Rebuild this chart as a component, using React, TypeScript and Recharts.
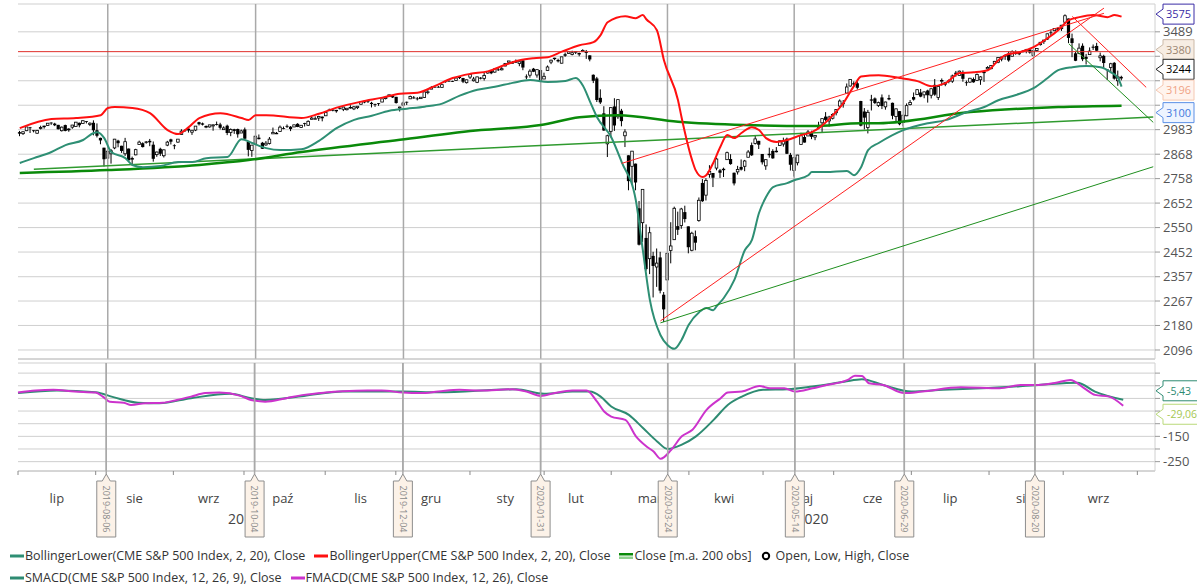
import React from 'react';
import { ComposedChart, Bar, Line, XAxis, YAxis, CartesianGrid, ReferenceLine } from 'recharts';

type OHLC = [number, number, number, number];

// Daily candles [open, high, low, close], one per trading day (index = trading-day slot)
const jul19: OHLC[] = [
  [2971, 2977, 2952, 2964], [2964, 2974, 2958, 2973], [2978, 2995, 2976, 2996], [2994, 2996, 2967, 2990],
  [2980, 2981, 2970, 2976], [2966, 2982, 2963, 2979], [2989, 3002, 2984, 2993], [2999, 3002, 2988, 3000],
  [3003, 3014, 3001, 3014], [3017, 3018, 3006, 3014], [3012, 3016, 3000, 3004], [3006, 3006, 2984, 2985],
  [2978, 2998, 2974, 2995], [3005, 3007, 2975, 2977], [2982, 2990, 2973, 2986], [2995, 3006, 2987, 3005],
  [2998, 3020, 2996, 3019], [3016, 3017, 2994, 3004], [3013, 3028, 3012, 3026], [3024, 3024, 3013, 3021],
  [3008, 3018, 3000, 3014], [3016, 3028, 2956, 2980],
];
const aug19: OHLC[] = [
  [2980, 3013, 2946, 2954], [2944, 2945, 2914, 2932], [2898, 2898, 2812, 2845], [2850, 2892, 2795, 2882],
  [2870, 2892, 2825, 2884], [2897, 2939, 2891, 2938], [2931, 2935, 2900, 2919], [2907, 2907, 2874, 2883],
  [2870, 2944, 2860, 2926], [2894, 2894, 2839, 2840], [2845, 2857, 2817, 2848], [2865, 2893, 2863, 2889],
  [2913, 2931, 2913, 2924], [2919, 2923, 2899, 2901], [2922, 2929, 2917, 2925], [2930, 2939, 2905, 2923],
  [2912, 2927, 2834, 2847], [2866, 2880, 2856, 2878], [2893, 2898, 2860, 2870], [2861, 2890, 2853, 2888],
  [2910, 2930, 2905, 2924], [2937, 2940, 2913, 2926],
];
const sep19: OHLC[] = [
  [2909, 2914, 2891, 2906], [2924, 2938, 2921, 2938], [2960, 2985, 2960, 2976], [2980, 2985, 2972, 2979],
  [2988, 2989, 2969, 2979], [2971, 2980, 2958, 2980], [2981, 3000, 2976, 3000], [3019, 3021, 3003, 3009],
  [3013, 3017, 3003, 3007], [2996, 3003, 2990, 2998], [2996, 3006, 2993, 3006], [3001, 3008, 2978, 3006],
  [3010, 3022, 3003, 3006], [3008, 3016, 2984, 2992], [2983, 2999, 2982, 2991], [3002, 3007, 2957, 2967],
  [2969, 2989, 2952, 2984], [2985, 2987, 2963, 2977], [2986, 2988, 2945, 2961], [2967, 2983, 2967, 2977],
];
const oct19: OHLC[] = [
  [2984, 2993, 2938, 2940], [2925, 2925, 2858, 2888], [2885, 2911, 2856, 2910], [2918, 2953, 2918, 2952],
  [2945, 2960, 2937, 2938], [2921, 2925, 2892, 2893], [2911, 2929, 2907, 2919], [2918, 2948, 2913, 2938],
  [2963, 2993, 2963, 2970], [2966, 2972, 2962, 2966], [2974, 3003, 2974, 2995], [2990, 2998, 2985, 2989],
  [3001, 3008, 2991, 2997], [2997, 3000, 2976, 2986], [2996, 3007, 2995, 3006], [3011, 3014, 2995, 2996],
  [2994, 3005, 2991, 3004], [3014, 3016, 2998, 3010], [3004, 3028, 3001, 3023], [3033, 3044, 3032, 3039],
  [3036, 3047, 3034, 3036], [3039, 3050, 3025, 3047], [3046, 3046, 3023, 3038],
];
const nov19: OHLC[] = [
  [3050, 3066, 3050, 3067], [3078, 3085, 3074, 3078], [3080, 3083, 3072, 3075], [3075, 3079, 3065, 3077],
  [3087, 3098, 3081, 3085], [3082, 3094, 3073, 3093], [3080, 3088, 3076, 3087], [3089, 3102, 3085, 3091],
  [3084, 3098, 3078, 3094], [3090, 3098, 3083, 3097], [3107, 3120, 3104, 3120], [3118, 3124, 3112, 3122],
  [3128, 3128, 3113, 3120], [3114, 3119, 3091, 3108], [3108, 3110, 3094, 3104], [3112, 3113, 3099, 3110],
  [3118, 3133, 3117, 3134], [3135, 3142, 3131, 3141], [3145, 3155, 3143, 3154], [3148, 3151, 3138, 3141],
];
const dec19: OHLC[] = [
  [3144, 3144, 3110, 3113], [3088, 3095, 3071, 3093], [3103, 3120, 3100, 3113], [3119, 3120, 3103, 3117],
  [3134, 3150, 3134, 3146], [3141, 3148, 3135, 3136], [3136, 3143, 3126, 3133], [3135, 3143, 3133, 3142],
  [3141, 3176, 3139, 3169], [3167, 3182, 3157, 3169], [3183, 3198, 3183, 3192], [3195, 3198, 3191, 3192],
  [3195, 3199, 3191, 3191], [3192, 3206, 3192, 3206], [3223, 3226, 3216, 3221], [3226, 3227, 3222, 3224],
  [3225, 3226, 3220, 3223], [3227, 3240, 3227, 3240], [3247, 3248, 3235, 3240], [3240, 3241, 3214, 3221],
  [3216, 3232, 3212, 3231],
];
const jan20: OHLC[] = [
  [3245, 3258, 3235, 3258], [3226, 3246, 3222, 3235], [3218, 3247, 3214, 3246], [3242, 3245, 3233, 3237],
  [3238, 3268, 3227, 3253], [3266, 3275, 3263, 3275], [3281, 3283, 3260, 3265], [3271, 3288, 3268, 3288],
  [3285, 3294, 3277, 3283], [3283, 3298, 3280, 3289], [3303, 3317, 3302, 3317], [3323, 3330, 3320, 3330],
  [3321, 3329, 3316, 3321], [3330, 3338, 3320, 3321], [3316, 3326, 3302, 3326], [3333, 3334, 3281, 3295],
  [3248, 3259, 3234, 3244], [3255, 3286, 3242, 3276], [3289, 3293, 3271, 3273], [3256, 3285, 3242, 3284],
  [3282, 3282, 3214, 3226],
];
const feb20: OHLC[] = [
  [3235, 3268, 3235, 3249], [3280, 3306, 3280, 3298], [3324, 3337, 3313, 3334], [3344, 3347, 3334, 3345],
  [3335, 3342, 3322, 3328], [3318, 3352, 3317, 3352], [3366, 3375, 3352, 3358], [3370, 3381, 3369, 3379],
  [3365, 3385, 3360, 3374], [3378, 3381, 3367, 3380], [3369, 3375, 3355, 3370], [3380, 3393, 3378, 3386],
  [3380, 3389, 3341, 3373], [3360, 3360, 3328, 3338], [3257, 3259, 3214, 3226], [3238, 3246, 3118, 3128],
  [3139, 3182, 3108, 3116], [3062, 3097, 2977, 2979], [2916, 2959, 2855, 2954],
];
const mar20: OHLC[] = [
  [2975, 3091, 2946, 3090], [3096, 3137, 2977, 3003], [3045, 3130, 3035, 3130], [3075, 3084, 2999, 3024],
  [2954, 2985, 2901, 2972], [2863, 2863, 2707, 2747], [2813, 2883, 2734, 2882], [2825, 2825, 2707, 2741],
  [2630, 2661, 2478, 2481], [2570, 2711, 2492, 2711], [2508, 2563, 2380, 2386], [2426, 2553, 2367, 2529],
  [2437, 2453, 2280, 2398], [2394, 2466, 2319, 2409], [2431, 2453, 2295, 2305], [2290, 2300, 2192, 2237],
  [2345, 2449, 2345, 2447], [2458, 2572, 2408, 2476], [2501, 2637, 2500, 2630], [2556, 2616, 2520, 2541],
  [2558, 2632, 2545, 2627], [2614, 2641, 2571, 2585],
];
const apr20: OHLC[] = [
  [2555, 2555, 2447, 2471], [2459, 2533, 2455, 2527], [2515, 2538, 2459, 2489], [2579, 2676, 2574, 2664],
  [2739, 2756, 2657, 2660], [2686, 2760, 2663, 2750], [2777, 2818, 2762, 2790], [2783, 2783, 2721, 2762],
  [2805, 2852, 2795, 2846], [2795, 2801, 2761, 2784], [2799, 2807, 2765, 2800], [2843, 2880, 2842, 2875],
  [2846, 2868, 2820, 2823], [2784, 2785, 2728, 2737], [2788, 2815, 2776, 2799], [2810, 2844, 2794, 2798],
  [2813, 2842, 2791, 2837], [2854, 2887, 2854, 2878], [2910, 2922, 2860, 2863], [2918, 2954, 2913, 2939],
  [2930, 2930, 2892, 2912],
];
const may20: OHLC[] = [
  [2869, 2869, 2821, 2831], [2815, 2844, 2797, 2843], [2868, 2898, 2852, 2868], [2883, 2891, 2847, 2849],
  [2879, 2901, 2876, 2882], [2908, 2932, 2906, 2930], [2915, 2945, 2903, 2930], [2940, 2945, 2869, 2870],
  [2865, 2874, 2794, 2820], [2794, 2852, 2767, 2852], [2829, 2865, 2817, 2864], [2913, 2968, 2913, 2954],
  [2948, 2964, 2922, 2922], [2953, 2981, 2953, 2972], [2970, 2978, 2938, 2949], [2948, 2956, 2933, 2955],
  [3005, 3021, 2988, 2992], [3016, 3037, 2969, 3036], [3046, 3068, 3023, 3030], [3025, 3050, 2998, 3044],
];
const jun20: OHLC[] = [
  [3038, 3062, 3032, 3056], [3065, 3081, 3052, 3081], [3098, 3131, 3090, 3123], [3112, 3128, 3090, 3112],
  [3163, 3212, 3163, 3194], [3199, 3233, 3196, 3232], [3213, 3223, 3194, 3207], [3213, 3223, 3181, 3190],
  [3123, 3124, 2999, 3002], [3071, 3088, 2984, 3041], [2993, 3079, 2965, 3067], [3131, 3154, 3076, 3125],
  [3136, 3141, 3108, 3113], [3101, 3120, 3093, 3115], [3141, 3156, 3083, 3098], [3094, 3120, 3080, 3118],
  [3138, 3154, 3127, 3131], [3114, 3115, 3033, 3050], [3046, 3086, 3024, 3084], [3073, 3073, 3004, 3009],
  [3018, 3053, 2999, 3053], [3050, 3111, 3048, 3100],
];
const jul20: OHLC[] = [
  [3105, 3128, 3101, 3116], [3143, 3166, 3125, 3130], [3155, 3183, 3155, 3180], [3166, 3184, 3142, 3145],
  [3154, 3171, 3137, 3169], [3176, 3180, 3115, 3152], [3152, 3186, 3136, 3185], [3205, 3235, 3149, 3155],
  [3141, 3200, 3128, 3197], [3225, 3238, 3201, 3227], [3208, 3220, 3198, 3216], [3224, 3233, 3213, 3225],
  [3224, 3258, 3215, 3251], [3268, 3277, 3247, 3258], [3254, 3279, 3253, 3276], [3272, 3280, 3221, 3236],
  [3218, 3227, 3200, 3216], [3219, 3241, 3215, 3239], [3235, 3243, 3216, 3218], [3227, 3264, 3227, 3258],
  [3231, 3250, 3205, 3246], [3270, 3272, 3220, 3271],
];
const aug20: OHLC[] = [
  [3288, 3302, 3284, 3295], [3289, 3306, 3286, 3306], [3317, 3330, 3318, 3328], [3323, 3351, 3318, 3349],
  [3340, 3352, 3328, 3351], [3356, 3364, 3336, 3360], [3370, 3381, 3326, 3333], [3355, 3387, 3355, 3380],
  [3372, 3387, 3363, 3373], [3368, 3378, 3361, 3373], [3380, 3387, 3379, 3382], [3387, 3395, 3371, 3390],
  [3392, 3399, 3369, 3375], [3360, 3390, 3354, 3385], [3386, 3399, 3380, 3397], [3418, 3432, 3413, 3431],
  [3435, 3444, 3422, 3443], [3449, 3479, 3444, 3478], [3486, 3501, 3468, 3484], [3495, 3510, 3493, 3508],
  [3509, 3514, 3494, 3500],
];
const sep20: OHLC[] = [
  [3507, 3528, 3494, 3526], [3543, 3588, 3535, 3580], [3564, 3564, 3427, 3455], [3453, 3479, 3350, 3427],
  [3371, 3379, 3329, 3331], [3370, 3425, 3366, 3399], [3412, 3425, 3329, 3339], [3352, 3368, 3311, 3341],
  [3364, 3403, 3364, 3383], [3407, 3419, 3389, 3401], [3411, 3428, 3384, 3385], [3347, 3375, 3328, 3357],
  [3357, 3363, 3293, 3319], [3285, 3285, 3230, 3281], [3295, 3320, 3271, 3315], [3320, 3324, 3232, 3237],
  [3226, 3279, 3200, 3246], [3240, 3252, 3228, 3244],
];
const candleOHLC: OHLC[] = [
  ...jul19, ...aug19, ...sep19, ...oct19, ...nov19, ...dec19, ...jan20, ...feb20,
  ...mar20, ...apr20, ...may20, ...jun20, ...jul20, ...aug20, ...sep20,
];

// Indicator lines: [trading-day slot, value]
const bollUpper: [number, number][] = [
  [0, 2990], [9, 3034], [16, 3039], [23, 3053], [25, 3088], [27, 3093], [32, 3088], [37, 3063], [42, 2981],
  [45, 2962], [48, 2995], [51, 3039], [57, 3063], [63, 3039], [65, 3029], [67, 3053], [70, 3053], [80, 3039],
  [85, 3060], [90, 3090], [97, 3120], [103, 3140], [108, 3160], [113, 3165], [118, 3200], [123, 3240],
  [128, 3262], [133, 3275], [138, 3310], [142, 3334], [146, 3345], [150, 3350], [154, 3380], [159, 3415],
  [163, 3432], [165, 3471], [167, 3543], [172, 3577], [175, 3566], [177, 3584], [178, 3560], [181, 3498],
  [183, 3334], [187, 3127], [188, 3043], [191, 2841], [192, 2796], [194, 2765], [195, 2773], [197, 2828],
  [199, 2901], [201, 2957], [203, 2943], [205, 2967], [208, 2995], [210, 2981], [212, 2943], [215, 2925],
  [218, 2934], [222, 2957], [225, 2971], [227, 2990], [231, 3053], [234, 3113], [237, 3200], [239, 3248],
  [244, 3255], [250, 3240], [255, 3224], [259, 3198], [263, 3214], [267, 3266], [271, 3270], [275, 3281],
  [278, 3334], [280, 3361], [284, 3377], [288, 3405], [292, 3454], [295, 3498], [298, 3555], [301, 3572],
  [305, 3584], [309, 3572], [311, 3584], [313, 3575],
];
const bollLower: [number, number][] = [
  [0, 2828], [4, 2850], [9, 2878], [13, 2910], [18, 2934], [21, 2967], [22, 2971], [24, 2943], [26, 2878],
  [30, 2850], [32, 2819], [35, 2809], [40, 2814], [45, 2832], [49, 2832], [53, 2850], [59, 2855], [63, 2938],
  [66, 2920], [70, 2896], [74, 2887], [80, 2891], [85, 2930], [90, 2990], [95, 3030], [100, 3050], [105, 3075],
  [110, 3085], [115, 3095], [120, 3110], [125, 3150], [130, 3180], [135, 3195], [140, 3215], [145, 3230],
  [150, 3220], [155, 3225], [158, 3240], [160, 3200], [162, 3120], [164, 3043], [168, 2948], [171, 2832],
  [175, 2665], [177, 2460], [179, 2271], [182, 2147], [184, 2113], [186, 2100], [188, 2130], [190, 2182],
  [193, 2227], [195, 2242], [197, 2234], [198, 2249], [200, 2278], [203, 2345], [206, 2460], [208, 2500],
  [210, 2610], [212, 2678], [214, 2721], [218, 2738], [220, 2751], [224, 2773], [225, 2787], [229, 2787],
  [235, 2792], [237, 2773], [239, 2809], [241, 2887], [244, 2920], [251, 2981], [258, 3014], [263, 3029],
  [269, 3068], [274, 3093], [278, 3127], [283, 3153], [288, 3188], [292, 3240], [295, 3281], [299, 3297],
  [303, 3303], [307, 3297], [310, 3270], [312, 3240], [313, 3196],
];
const movingAvg200: [number, number][] = [
  [0, 2783], [25, 2796], [51, 2819], [65, 2841], [80, 2878], [108, 2935], [131, 2981], [148, 3005],
  [159, 3043], [170, 3053], [187, 3021], [206, 3005], [225, 3000], [239, 3014], [244, 3014], [270, 3068],
  [295, 3093], [313, 3100],
];
const fmacd: [number, number][] = [
  [0, 23], [5, 31], [10, 34], [16, 27], [22, 23], [24, 7], [26, -13], [30, -17], [32, -26], [36, -19],
  [41, -17], [45, -6], [49, 7], [53, 21], [57, 23], [63, 10], [66, -6], [70, -13], [76, 1], [81, 14],
  [87, 23], [92, 28], [99, 31], [103, 31], [109, 23], [114, 21], [119, 27], [125, 34], [131, 31], [140, 36],
  [144, 27], [148, 10], [152, 21], [157, 31], [161, 31], [164, -13], [166, -52], [168, -72], [172, -85],
  [175, -150], [178, -190], [180, -210], [182, -239], [185, -203], [188, -150], [191, -124], [195, -45],
  [199, 1], [201, 23], [205, 27], [210, 49], [213, 40], [217, 40], [220, 27], [225, 40], [229, 53],
  [235, 73], [237, 90], [239, 89], [241, 60], [245, 53], [251, 21], [256, 27], [267, 44], [278, 40],
  [284, 53], [289, 53], [294, 62], [298, 73], [302, 40], [305, 14], [309, 7], [313, -29.06],
];
const smacd: [number, number][] = [
  [0, 21], [11, 31], [22, 24], [27, 5], [34, -17], [40, -19], [49, 1], [60, 18], [66, 1], [70, -6],
  [81, 10], [92, 27], [109, 27], [119, 24], [141, 36], [149, 18], [157, 27], [162, 27], [165, 7],
  [168, -32], [173, -65], [177, -117], [181, -170], [184, -200], [188, -183], [192, -150], [197, -85],
  [201, -26], [205, 7], [211, 34], [218, 36], [225, 47], [234, 66], [239, 76], [245, 53], [253, 27],
  [262, 34], [273, 40], [289, 53], [300, 62], [305, 27], [313, -5.43],
];

// Hand-drawn trend lines: [slot, value] end points
const redTrendA: [number, number][] = [[171, 2826], [308, 3594]];
const redTrendB: [number, number][] = [[182, 2196], [308, 3624]];
const redTrendC: [number, number][] = [[299, 3576], [320, 3192]];
const greenTrendD: [number, number][] = [[298, 3423], [322, 3018]];
const greenTrendE: [number, number][] = [[182, 2189], [322, 2811]];
const greenTrendF: [number, number][] = [[4, 2800], [322, 3044]];
const resistanceLevel = 3380;

// Axes
const SLOT_COUNT = 323;
const priceTicks = [2096, 2180, 2267, 2357, 2452, 2550, 2652, 2758, 2868, 2983, 3102, 3226, 3355, 3489];
const hiddenPriceTicks = [3102, 3226, 3355];
const macdTicks = [100, 50, 0, -50, -100, -150, -200, -250];
const shownMacdTicks = [-150, -250];
const monthStarts = [0, 22, 44, 64, 87, 107, 128, 149, 168, 190, 211, 231, 253, 275, 296, 317];
const monthMids = [11, 33, 54, 75, 97, 117, 138, 158, 179, 200, 222, 242, 264, 285, 306];
const monthNames = ['lip', 'sie', 'wrz', 'paź', 'lis', 'gru', 'sty', 'lut', 'mar', 'kwi', 'maj', 'cze', 'lip', 'sie', 'wrz'];
const yearMids = [64, 225];
const yearNames = ['2019', '2020'];
const markerSlots = [25, 67, 109, 148, 184, 220, 251, 288];
const markerDates = ['2019-08-06', '2019-10-04', '2019-12-04', '2020-01-31', '2020-03-24', '2020-05-14', '2020-06-29', '2020-08-20'];

// Last-value tags
const priceTagValues = [3575, 3380, 3244, 3196, 3100];
const macdTagValues = [-5.43, -29.06];

// Styles (not data)
const FONT = "'Open Sans', 'Noto Sans', sans-serif";
const priceTagStyles = [
  { shift: -2.5, stroke: '#3a2ca6', fill: '#ffffff', color: '#3a2ca6' },
  { shift: -2, stroke: '#cbb9a7', fill: '#f7ede3', color: '#9c8672' },
  { shift: -8, stroke: '#222222', fill: '#ffffff', color: '#000000' },
  { shift: 3.5, stroke: '#f5c8b2', fill: '#fff4ee', color: '#f0a385' },
  { shift: 7, stroke: '#5a8fe6', fill: '#eef4ff', color: '#3f78dc' },
];
const macdTagStyles = [
  { shift: -9, stroke: '#2e8b72', fill: '#ffffff', color: '#2e8b72' },
  { shift: 8.5, stroke: '#b9d97a', fill: '#ffffff', color: '#a5c752' },
];
const C_LOWER = '#2e8f74';
const C_UPPER = '#ff1010';
const C_MA = '#0a8a0a';
const C_SMACD = '#2e8b72';
const C_FMACD = '#cc33cc';
const LOWER_MARGIN = { top: 4, right: 0, bottom: 28, left: 18 };

const rows: any[] = Array.from({ length: SLOT_COUNT }, (_, i) => ({ i }));
candleOHLC.forEach(([o, h, l, c], i) => {
  Object.assign(rows[i], { o, h, l, c, range: [l, h] });
});
const put = (key: string, pts: [number, number][]) => pts.forEach(([i, v]) => { rows[i][key] = v; });
put('bu', bollUpper);
put('bl', bollLower);
put('ma', movingAvg200);
put('fm', fmacd);
put('sm', smacd);
put('tA', redTrendA);
put('tB', redTrendB);
put('tC', redTrendC);
put('tD', greenTrendD);
put('tE', greenTrendE);
put('tF', greenTrendF);

const Candle = (props: any) => {
  const { x, y, width, height, payload } = props;
  if (!payload || payload.h == null || !isFinite(y) || !isFinite(height)) return null;
  const { o, h, l, c } = payload;
  const span = Math.log(h) - Math.log(l);
  const yOf = (v: number) => (span > 0 ? y + ((Math.log(h) - Math.log(v)) / span) * height : y);
  const cx = x + width / 2;
  const top = yOf(Math.max(o, c));
  const bot = yOf(Math.min(o, c));
  const up = c >= o;
  return (
    <g>
      <line x1={cx} x2={cx} y1={y} y2={y + height} stroke="#000" strokeWidth={1} />
      {up ? (
        <rect x={cx - 1.3} y={top} width={2.6} height={Math.max(bot - top, 0.6)} fill="#fff" stroke="#000" strokeWidth={0.8} />
      ) : (
        <rect x={cx - 1.6} y={top} width={3.2} height={Math.max(bot - top, 0.8)} fill="#000" />
      )}
    </g>
  );
};

const ValueTag = (props: any) => {
  const { viewBox, text, st, boxW, alignLeft } = props;
  if (!viewBox) return null;
  const tipX = viewBox.x + viewBox.width + 1;
  const cy = viewBox.y + st.shift;
  const bx = tipX + 7;
  const d = `M${tipX},${cy} L${bx},${cy - 5} L${bx},${cy - 10} L${bx + boxW},${cy - 10} L${bx + boxW},${cy + 10} L${bx},${cy + 10} L${bx},${cy + 5} Z`;
  return (
    <g>
      <path d={d} fill={st.fill} stroke={st.stroke} strokeWidth={1} />
      <text
        x={alignLeft ? bx + 4 : bx + boxW / 2}
        y={cy}
        dy="0.36em"
        textAnchor={alignLeft ? 'start' : 'middle'}
        fontSize={alignLeft ? 10.5 : 11}
        fill={st.color}
        fontFamily={FONT}
      >
        {text}
      </text>
    </g>
  );
};

const DateTag = (props: any) => {
  const { viewBox, text } = props;
  if (!viewBox) return null;
  const cx = viewBox.x;
  const base = viewBox.y + viewBox.height;
  const peak = base + 3;
  const top = base + 10;
  const bottom = base + 66;
  const hw = 9.5;
  const d = `M${cx - hw},${top} L${cx - 4},${top} L${cx},${peak} L${cx + 4},${top} L${cx + hw},${top} L${cx + hw},${bottom} L${cx - hw},${bottom} Z`;
  return (
    <g>
      <line x1={cx} x2={cx} y1={base} y2={peak} stroke="#a9a9a9" strokeWidth={1.5} />
      <path d={d} fill="#fcf2e8" stroke="#8e8e8e" strokeWidth={1} />
      <text
        transform={`translate(${cx},${(top + bottom) / 2}) rotate(90)`}
        textAnchor="middle"
        dy="0.35em"
        fontSize={9}
        fill="#8a8a8a"
        fontFamily={FONT}
      >
        {text}
      </text>
    </g>
  );
};

const fmtComma = (v: number) => v.toFixed(2).replace('.', ',');

const legendRow1 = [
  { label: 'BollingerLower(CME S&P 500 Index, 2, 20), Close', color: C_LOWER, kind: 'line' },
  { label: 'BollingerUpper(CME S&P 500 Index, 2, 20), Close', color: C_UPPER, kind: 'line' },
  { label: 'Close [m.a. 200 obs]', color: C_MA, kind: 'double' },
  { label: 'Open, Low, High, Close', color: '#000', kind: 'candle' },
];
const legendRow2 = [
  { label: 'SMACD(CME S&P 500 Index, 12, 26, 9), Close', color: C_SMACD, kind: 'line' },
  { label: 'FMACD(CME S&P 500 Index, 12, 26), Close', color: C_FMACD, kind: 'line' },
];

const LegendIcon = ({ kind, color }: any) => {
  if (kind === 'double') {
    return (
      <svg width={14} height={10} style={{ marginRight: 1 }}>
        <rect x={0} y={2} width={14} height={2.5} fill={color} />
        <rect x={0} y={5.5} width={14} height={2.5} fill="#8fd08f" />
      </svg>
    );
  }
  if (kind === 'candle') {
    return (
      <svg width={12} height={10} style={{ marginRight: 3 }}>
        <circle cx={5} cy={5} r={3.2} fill="#fff" stroke="#000" strokeWidth={2} />
      </svg>
    );
  }
  return (
    <svg width={14} height={10} style={{ marginRight: 1 }}>
      <rect x={0} y={3.5} width={14} height={3} fill={color} />
    </svg>
  );
};

const LegendRow = ({ items, top }: any) => (
  <div style={{ position: 'absolute', left: 10, top, display: 'flex', alignItems: 'center', whiteSpace: 'nowrap', fontSize: 12.5, color: '#333', fontFamily: FONT }}>
    {items.map((it: any) => (
      <div key={it.label} style={{ display: 'flex', alignItems: 'center', marginRight: 9 }}>
        <LegendIcon kind={it.kind} color={it.color} />
        <span>{it.label}</span>
      </div>
    ))}
  </div>
);

// The three stacked bottom axes (month ticks, month names, years); shared by the MACD panel and its tag overlay
const renderBottomAxes = (visible: boolean) => [
  <XAxis
    key="ax0"
    dataKey="i"
    type="category"
    ticks={monthStarts}
    interval={0}
    height={6}
    tickSize={4}
    tickMargin={0}
    axisLine={visible ? { stroke: '#c4c4c4' } : false}
    tickLine={visible ? { stroke: '#8a8a8a' } : false}
    tickFormatter={() => ''}
  />,
  <XAxis
    key="axm"
    xAxisId="m"
    dataKey="i"
    type="category"
    ticks={monthMids}
    interval={0}
    height={20}
    tickSize={0}
    tickMargin={17}
    axisLine={false}
    tickLine={false}
    tick={{ fill: '#444', fontSize: 13, fontFamily: FONT }}
    tickFormatter={(v: number) => (visible ? monthNames[monthMids.indexOf(v)] ?? '' : '')}
  />,
  <XAxis
    key="axy"
    xAxisId="y"
    dataKey="i"
    type="category"
    ticks={yearMids}
    interval={0}
    height={20}
    tickSize={0}
    tickMargin={17}
    axisLine={false}
    tickLine={false}
    tick={{ fill: '#444', fontSize: 14, fontFamily: FONT }}
    tickFormatter={(v: number) => (visible ? yearNames[yearMids.indexOf(v)] ?? '' : '')}
  />,
];

export default function App() {
  return (
    <div style={{ position: 'absolute', left: 0, top: 0, width: 1197, height: 588, background: '#fff', overflow: 'hidden', fontFamily: FONT }}>
      <div style={{ position: 'absolute', left: 0, top: 0 }}>
        <ComposedChart width={1197} height={361} data={rows} margin={{ top: 4, right: 0, bottom: 1, left: 18 }} barCategoryGap={0}>
          <CartesianGrid horizontal vertical={false} stroke="#cfcfcf" strokeWidth={1} />
          <XAxis dataKey="i" type="category" height={1} tick={false} tickLine={false} axisLine={{ stroke: '#c4c4c4' }} />
          <YAxis
            orientation="right"
            scale="log"
            domain={[2066, 3648]}
            allowDataOverflow
            ticks={priceTicks}
            interval={0}
            width={42}
            tickSize={5}
            tickMargin={3}
            axisLine={{ stroke: '#d0d0d0' }}
            tickLine={{ stroke: '#9a9a9a' }}
            tick={{ fill: '#555', fontSize: 13, fontFamily: FONT }}
            tickFormatter={(v: number) => (hiddenPriceTicks.includes(v) ? '' : String(v))}
          />
          {markerSlots.map((s) => (
            <ReferenceLine key={'m' + s} x={s} stroke="#a9a9a9" strokeWidth={1.5} />
          ))}
          <ReferenceLine y={resistanceLevel} stroke="#e0302a" strokeWidth={1} />
          <Line type="linear" dataKey="tF" stroke="#2f9a2f" strokeWidth={1.5} dot={false} connectNulls isAnimationActive={false} />
          <Line type="monotone" dataKey="ma" stroke={C_MA} strokeWidth={2.5} dot={false} connectNulls isAnimationActive={false} />
          <Line type="monotone" dataKey="bl" stroke={C_LOWER} strokeWidth={2} dot={false} connectNulls isAnimationActive={false} />
          <Line type="monotone" dataKey="bu" stroke={C_UPPER} strokeWidth={2} dot={false} connectNulls isAnimationActive={false} />
          <Bar dataKey="range" barSize={3} shape={<Candle />} isAnimationActive={false} />
          <Line type="linear" dataKey="tA" stroke="#ff2020" strokeWidth={1} dot={false} connectNulls isAnimationActive={false} />
          <Line type="linear" dataKey="tB" stroke="#ff2020" strokeWidth={1} dot={false} connectNulls isAnimationActive={false} />
          <Line type="linear" dataKey="tC" stroke="#ff2020" strokeWidth={1} dot={false} connectNulls isAnimationActive={false} />
          <Line type="linear" dataKey="tD" stroke="#1f8f1f" strokeWidth={1} dot={false} connectNulls isAnimationActive={false} />
          <Line type="linear" dataKey="tE" stroke="#1f8f1f" strokeWidth={1} dot={false} connectNulls isAnimationActive={false} />
          {priceTagValues.map((v, k) => (
            <ReferenceLine
              key={'pt' + v}
              y={v}
              stroke="none"
              strokeOpacity={0}
              label={(p: any) => <ValueTag {...p} text={String(v)} st={priceTagStyles[k]} boxW={31} />}
            />
          ))}
        </ComposedChart>
      </div>
      <div style={{ position: 'absolute', left: 0, top: 359 }}>
        <ComposedChart width={1197} height={186} data={rows} margin={LOWER_MARGIN}>
          <CartesianGrid horizontal vertical={false} stroke="#cfcfcf" strokeWidth={1} />
          {renderBottomAxes(true)}
          <YAxis
            orientation="right"
            domain={[-287, 140]}
            allowDataOverflow
            ticks={macdTicks}
            interval={0}
            width={42}
            tickSize={5}
            tickMargin={3}
            axisLine={{ stroke: '#d0d0d0' }}
            tickLine={{ stroke: '#9a9a9a' }}
            tick={{ fill: '#555', fontSize: 13, fontFamily: FONT }}
            tickFormatter={(v: number) => (shownMacdTicks.includes(v) ? String(v) : '')}
          />
          {markerSlots.map((s) => (
            <ReferenceLine key={'d' + s} x={s} stroke="#a9a9a9" strokeWidth={1.5} />
          ))}
          <Line type="monotone" dataKey="sm" stroke={C_SMACD} strokeWidth={2} dot={false} connectNulls isAnimationActive={false} />
          <Line type="monotone" dataKey="fm" stroke={C_FMACD} strokeWidth={2} dot={false} connectNulls isAnimationActive={false} />
          {macdTagValues.map((v, k) => (
            <ReferenceLine
              key={'mt' + v}
              y={v}
              stroke="none"
              strokeOpacity={0}
              label={(p: any) => <ValueTag {...p} text={fmtComma(v)} st={macdTagStyles[k]} boxW={42} alignLeft />}
            />
          ))}
        </ComposedChart>
      </div>
      {/* overlay: date tags drawn above the axis labels */}
      <div style={{ position: 'absolute', left: 0, top: 359, pointerEvents: 'none' }}>
        <ComposedChart width={1197} height={186} data={rows} margin={LOWER_MARGIN}>
          {renderBottomAxes(false)}
          <YAxis orientation="right" domain={[-287, 140]} allowDataOverflow width={42} tick={false} axisLine={false} tickLine={false} />
          <Line type="linear" dataKey="sm" stroke="transparent" strokeWidth={0} dot={false} activeDot={false} connectNulls isAnimationActive={false} />
          {markerSlots.map((s, k) => (
            <ReferenceLine
              key={'dt' + s}
              x={s}
              stroke="#a9a9a9"
              strokeWidth={1.5}
              label={(p: any) => <DateTag {...p} text={markerDates[k]} />}
            />
          ))}
        </ComposedChart>
      </div>
      <LegendRow items={legendRow1} top={547} />
      <LegendRow items={legendRow2} top={569} />
    </div>
  );
}
